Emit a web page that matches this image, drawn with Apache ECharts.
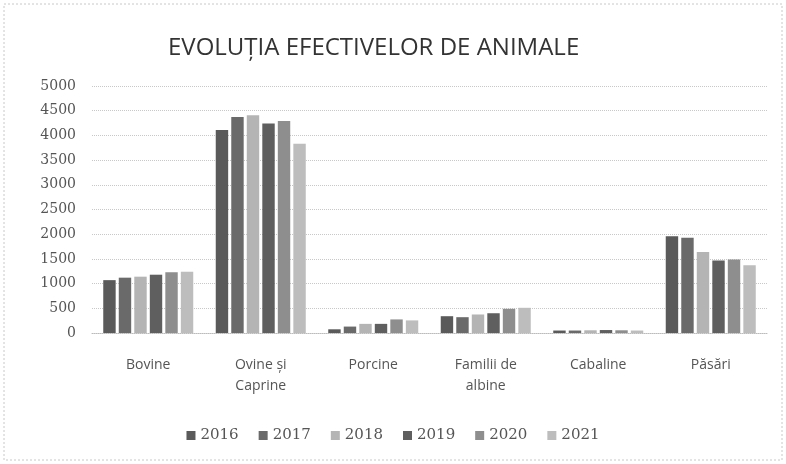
<!DOCTYPE html>
<html>
<head>
<meta charset="utf-8">
<script src="https://cdn.jsdelivr.net/npm/echarts@6/dist/echarts.min.js"></script>
<style>
  html, body { margin: 0; padding: 0; background: #fff; }
  #chart { width: 786px; height: 464px; }
</style>
</head>
<body>
<div id="chart"></div>
<script>
  const categories = ['Bovine', 'Ovine și\nCaprine', 'Porcine', 'Familii de\nalbine', 'Cabaline', 'Păsări'];
  const years = ['2016', '2017', '2018', '2019', '2020', '2021'];
  const v2016 = [1070, 4110, 75, 340, 50, 1960];
  const v2017 = [1120, 4370, 130, 320, 50, 1930];
  const v2018 = [1140, 4410, 185, 375, 55, 1640];
  const v2019 = [1180, 4240, 185, 400, 60, 1470];
  const v2020 = [1230, 4290, 275, 490, 55, 1490];
  const v2021 = [1240, 3830, 255, 510, 50, 1370];
  const values = [v2016, v2017, v2018, v2019, v2020, v2021];
  const colors = ['#5a5a5a', '#6a6a6a', '#b4b4b4', '#5f5f5f', '#8e8e8e', '#bdbdbd'];

  let myChart = echarts.init(document.getElementById('chart'));
  myChart.setOption({
    animation: false,
    title: {
      text: 'EVOLUȚIA EFECTIVELOR DE ANIMALE',
      left: 163,
      top: 31,
      textStyle: {
        fontFamily: 'Open Sans',
        fontSize: 24,
        fontWeight: 'normal',
        color: '#333'
      }
    },
    color: colors,
    graphic: [{
      type: 'rect',
      shape: { x: 4, y: 4, width: 778, height: 456 },
      style: { fill: 'none', stroke: '#c8c8c8', lineWidth: 1, lineDash: [2, 2] }
    }],
    legend: {
      bottom: 16,
      left: 'center',
      itemWidth: 9,
      itemHeight: 9,
      itemGap: 20,
      icon: 'rect',
      textStyle: { fontFamily: 'DejaVu Serif', fontSize: 15, color: '#555' },
      data: years
    },
    grid: { left: 92, right: 19, top: 86, bottom: 131 },
    xAxis: {
      type: 'category',
      data: categories,
      axisLine: { show: true, lineStyle: { color: '#bbb', type: 'dotted' } },
      axisTick: { show: false },
      axisLabel: {
        margin: 22,
        fontFamily: 'Open Sans',
        fontSize: 14,
        color: '#555',
        lineHeight: 21
      }
    },
    yAxis: {
      type: 'value',
      min: 0,
      max: 5000,
      interval: 500,
      axisLine: { show: false },
      axisTick: { show: false },
      axisLabel: {
        margin: 16,
        formatter: v => String(v),
        fontFamily: 'DejaVu Serif',
        fontSize: 14,
        color: '#555'
      },
      splitLine: { lineStyle: { color: '#c8c8c8', type: 'dotted' } }
    },
    series: years.map((y, i) => ({
      name: y,
      type: 'bar',
      data: values[i],
      barGap: '25%',
      barCategoryGap: '20%'
    }))
  });
</script>
</body>
</html>
